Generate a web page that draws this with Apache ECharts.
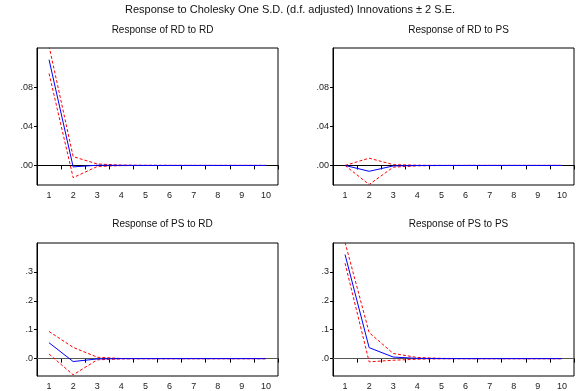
<!DOCTYPE html>
<html><head><meta charset="utf-8">
<script src="https://cdn.jsdelivr.net/npm/echarts@6/dist/echarts.min.js"></script>
<style>html,body{margin:0;padding:0;background:#fff}#c{width:580px;height:391px}</style>
</head><body><div id="c"></div>
<script>
var periods = ['1','2','3','4','5','6','7','8','9','10'];
var mainTitle = 'Response to Cholesky One S.D. (d.f. adjusted) Innovations \u00b1 2 S.E.';
var panelTitles = ['Response of RD to RD','Response of RD to PS','Response of PS to RD','Response of PS to PS'];

// RD to RD
var rdrd = [0.108, -0.0015, 0.0002, 0.0001, 0, 0, 0, 0, 0, 0];
var rdrdUp = [0.122, 0.009, 0.0015, 0.0003, 0.0001, 0, 0, 0, 0, 0];
var rdrdLo = [0.094, -0.0125, -0.0011, -0.0002, 0, 0, 0, 0, 0, 0];
// RD to PS
var rdps = [0, -0.006, -0.0005, -0.0001, 0, 0, 0, 0, 0, 0];
var rdpsUp = [0, 0.0074, 0.0008, 0.0002, 0, 0, 0, 0, 0, 0];
var rdpsLo = [0, -0.0195, -0.0018, -0.0004, -0.0001, 0, 0, 0, 0, 0];
// PS to RD
var psrd = [0.055, -0.010, -0.001, 0, 0, 0, 0, 0, 0, 0];
var psrdUp = [0.094, 0.039, 0.005, 0.0006, 0.0001, 0, 0, 0, 0, 0];
var psrdLo = [0.016, -0.056, -0.004, -0.0008, -0.0001, 0, 0, 0, 0, 0];
// PS to PS
var psps = [0.360, 0.038, 0.0055, 0.001, 0.0002, 0, 0, 0, 0, 0];
var pspsUp = [0.402, 0.090, 0.018, 0.004, 0.001, 0.0002, 0, 0, 0, 0];
var pspsLo = [0.330, -0.011, -0.0055, -0.002, -0.0005, -0.0001, 0, 0, 0, 0];

var topTicks = [0, 0.04, 0.08];
var botTicks = [0, 0.1, 0.2, 0.3];

var panels = [
  {mid: rdrd, up: rdrdUp, lo: rdrdLo, min: -0.02, max: 0.12, ticks: topTicks, dec: 2, zc: '#000'},
  {mid: rdps, up: rdpsUp, lo: rdpsLo, min: -0.02, max: 0.12, ticks: topTicks, dec: 2, zc: '#000'},
  {mid: psrd, up: psrdUp, lo: psrdLo, min: -0.06, max: 0.4, ticks: botTicks, dec: 1, zc: '#555'},
  {mid: psps, up: pspsUp, lo: pspsLo, min: -0.06, max: 0.4, ticks: botTicks, dec: 1, zc: '#555'}
];
var gridPos = [
  {left: 37, top: 48}, {left: 333, top: 48}, {left: 37, top: 243}, {left: 333, top: 243}
];
var GW = 241, GH = [137, 137, 138, 138];

function fmt(dec) {
  return function (v) { var s = Math.abs(v).toFixed(dec); return (v < 0 ? '-' : '') + s.replace(/^0/, ''); };
}

var grids = [], xAxes = [], yAxes = [], series = [], titles = [];
titles.push({text: mainTitle, left: 'center', top: -1, textStyle: {fontFamily: 'Liberation Sans', fontSize: 11, fontWeight: 'normal', color: '#111'}});
panels.forEach(function (p, i) {
  var g = gridPos[i];
  grids.push({left: g.left, top: g.top, width: GW, height: GH[i], show: true, borderColor: '#000', borderWidth: 1, containLabel: false});
  titles.push({text: panelTitles[i], left: g.left + GW / 2, textAlign: 'center', top: i < 2 ? 20 : 214,
    textStyle: {fontFamily: 'Liberation Sans', fontSize: 10, fontWeight: 'normal', color: '#111'}});
  xAxes.push({type: 'category', gridIndex: i, data: periods, boundaryGap: true,
    axisLine: {show: true, lineStyle: {color: '#000', width: 1}},
    axisTick: {show: true, length: 4, lineStyle: {color: '#000'}},
    axisLabel: {fontFamily: 'Liberation Sans', fontSize: 9, color: '#222', margin: 6},
    splitLine: {show: false}});
  yAxes.push({type: 'value', gridIndex: i, min: p.min, max: p.max,
    axisLine: {show: true, lineStyle: {color: '#000', width: 1}},
    axisTick: {show: true, length: 3, customValues: p.ticks, lineStyle: {color: '#000'}},
    axisLabel: {customValues: p.ticks, formatter: fmt(p.dec), fontFamily: 'Liberation Sans', fontSize: 9, color: '#222', margin: 4},
    splitLine: {show: false}});
  series.push({type: 'line', xAxisIndex: i, yAxisIndex: i, data: p.mid, symbol: 'none', z: 4,
    lineStyle: {color: '#0000ff', width: 1}, silent: true,
    markLine: {silent: true, symbol: 'none', label: {show: false}, z: 1,
      lineStyle: {color: p.zc, width: 1, type: 'solid'}, data: [{yAxis: 0}]}});
  series.push({type: 'line', xAxisIndex: i, yAxisIndex: i, data: p.up, symbol: 'none', z: 3, silent: true,
    lineStyle: {color: '#ff0000', width: 1, type: [3, 2]}});
  series.push({type: 'line', xAxisIndex: i, yAxisIndex: i, data: p.lo, symbol: 'none', z: 3, silent: true,
    lineStyle: {color: '#ff0000', width: 1, type: [3, 2]}});
});

var chart = echarts.init(document.getElementById('c'), null, {renderer: 'canvas'});
chart.setOption({animation: false, backgroundColor: '#fff', title: titles, grid: grids, xAxis: xAxes, yAxis: yAxes, series: series});
</script></body></html>
